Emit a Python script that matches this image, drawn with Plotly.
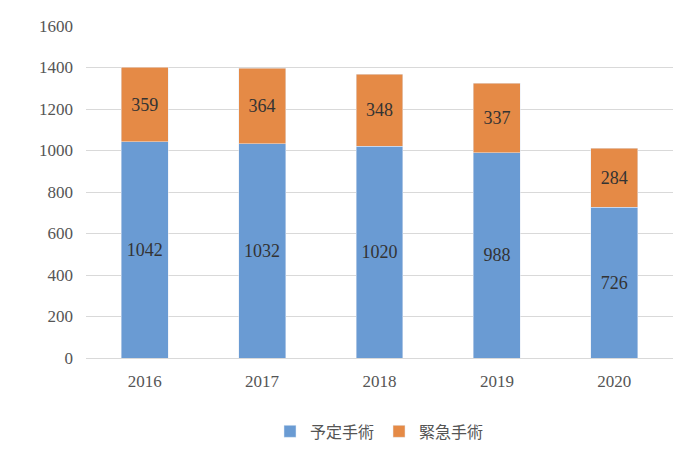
import plotly.graph_objects as go

years = ["2016", "2017", "2018", "2019", "2020"]
planned = [1042, 1032, 1020, 988, 726]
emergency = [359, 364, 348, 337, 284]
yticks = [0, 200, 400, 600, 800, 1000, 1200, 1400, 1600]

fig = go.Figure()
fig.add_bar(x=years, y=planned, name="予定手術", marker_color="#6a9bd3",
            text=planned, textposition="inside", insidetextanchor="middle",
            textfont=dict(size=18, color="#333333", family="Liberation Serif"))
fig.add_bar(x=years, y=emergency, name="緊急手術", marker_color="#e58a46",
            text=emergency, textposition="inside", insidetextanchor="middle",
            textfont=dict(size=18, color="#333333", family="Liberation Serif"))
fig.update_layout(
    barmode="stack", bargap=0.6, width=690, height=452,
    plot_bgcolor="white", paper_bgcolor="white",
    margin=dict(l=78, r=25, t=18, b=90),
    font=dict(family="Liberation Serif", size=17, color="#555555"),
    legend=dict(orientation="h", x=0.5, xanchor="center", y=-0.17, yanchor="top",
                traceorder="normal",
                font=dict(family="Noto Sans CJK JP", size=16, color="#555555")),
)
fig.update_yaxes(range=[0, 1600], tickvals=yticks, gridcolor="#d9d9d9",
                 zeroline=False, showline=False, ticks="", ticklabelstandoff=12,
                 automargin=False)
fig.update_xaxes(showline=True, linecolor="#d9d9d9", ticks="", automargin=False,
                 ticklabelstandoff=8)
fig.write_html("out.html")
